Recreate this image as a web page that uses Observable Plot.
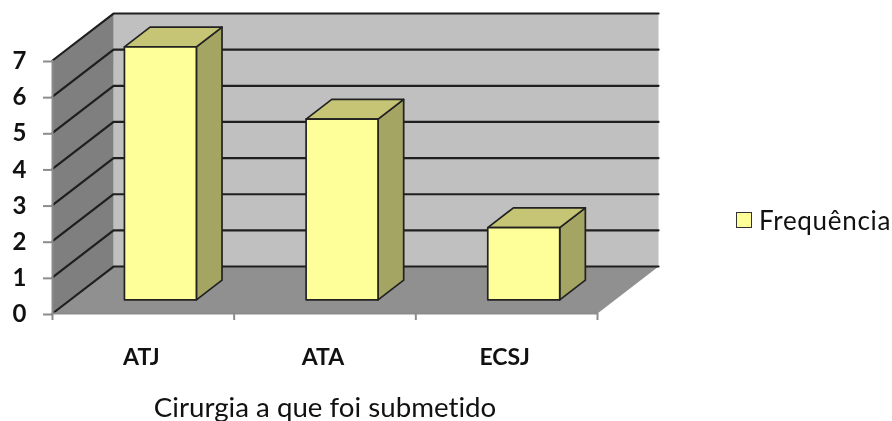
<!DOCTYPE html>
<html><head><meta charset="utf-8">
<script src="https://cdn.jsdelivr.net/npm/d3@7"></script>
<script src="https://cdn.jsdelivr.net/npm/@observablehq/plot@0.6"></script>
<style>
html,body{margin:0;padding:0;background:#fff;overflow:hidden}
#wrap{position:relative;width:892px;height:421px;font-family:Lato,"Open Sans",sans-serif;color:#111;filter:blur(.5px);font-variant-ligatures:none}
#wrap svg{font-variant-ligatures:none}
#legend{position:absolute;left:736px;top:203px;display:flex;align-items:center;font-size:26px;line-height:34px;letter-spacing:.7px}
#legend i{display:inline-block;box-sizing:border-box;width:16px;height:16px;background:#ffff99;border:1.5px solid #333;margin-right:7px}
</style></head><body>
<div id="wrap"><div id="legend"><i></i><span id="legendText"></span></div></div>
<script>
const categories = ["ATJ", "ATA", "ECSJ"];
const frequencies = [7, 5, 2];
const yTicks = [0, 1, 2, 3, 4, 5, 6, 7];
const xTitle = "Cirurgia a que foi submetido";
const seriesName = "Frequência";

// oblique projection, in data units of the two scales
const depthX = 0.336, depthY = 1.30;
const barFront = 0.29, barBack = 0.71, barInset = 0.396, barWidth = 0.396;
const P = (x, v, d) => ({x: x + d * depthX, y: v + d * depthY});
const face = (id, fill, pts) => pts.concat([pts[0]]).map(p => ({...p, id, fill}));

const maxV = d3.max(yTicks), nCat = categories.length;
const faces = [
  face("wall", "#c0c0c0", [P(0,0,1), P(nCat,0,1), P(nCat,maxV,1), P(0,maxV,1)]),
  face("side", "#7f7f7f", [P(0,0,0), P(0,0,1), P(0,maxV,1), P(0,maxV,0)]),
  face("floor", "#909090", [P(0,0,0), P(nCat,0,0), P(nCat,0,1), P(0,0,1)])
].flat();

const gridLines = yTicks.flatMap(v => [
  {...P(0,v,0), id:v}, {...P(0,v,1), id:v}, {...P(nCat,v,1), id:v}
]);

const barFaces = categories.flatMap((c, i) => {
  const v = frequencies[i], a = i + barInset - barFront * depthX, b = a + barWidth;
  return [
    face(c + "-side", "#a4a463", [P(b,0,barFront), P(b,0,barBack), P(b,v,barBack), P(b,v,barFront)]),
    face(c + "-top", "#c5c575", [P(a,v,barFront), P(b,v,barFront), P(b,v,barBack), P(a,v,barBack)]),
    face(c + "-front", "#ffff99", [P(a,0,barFront), P(b,0,barFront), P(b,v,barFront), P(a,v,barFront)])
  ];
}).flat();

document.getElementById("legendText").textContent = seriesName;

const chart = Plot.plot({
  width: 892, height: 421,
  marginLeft: 52, marginRight: 295, marginTop: 60, marginBottom: 108,
  x: {domain: [0, nCat]},
  y: {domain: [0, maxV]},
  style: {background: "transparent", overflow: "visible", fontFamily: "Lato, 'Open Sans', sans-serif"},
  marks: [
    Plot.line(faces, {x:"x", y:"y", z:"id", fill:"fill", stroke:"none", curve:"linear"}),
    Plot.line(gridLines, {x:"x", y:"y", z:"id", stroke:"#1f1f1f", strokeWidth:2.2, curve:"linear"}),
    Plot.ruleX([0], {y1:0, y2:maxV, stroke:"#8c8c8c", strokeWidth:2}),
    Plot.ruleY([0], {x1:0, x2:nCat, stroke:"#8c8c8c", strokeWidth:2}),
    Plot.axisY({ticks: yTicks, tickSize: 9, tickPadding: 17, fontSize: 24, fontWeight: 700, stroke:"#8c8c8c", strokeWidth:2, color:"#111", label:null, tickFormat:d=>d, dy:1}),
    Plot.axisX({ticks: d3.range(nCat + 1), tickSize: 7, stroke:"#8c8c8c", strokeWidth:2, tickFormat:()=>"", label:null}),
    Plot.axisX({ticks: categories.map((c,i)=>i+0.5), tickSize: 0, tickPadding: 35, fontSize: 23, fontWeight: 700, color:"#111", stroke:"none", tickFormat:d=>categories[d-0.5], label:null, dx:-2}),
    Plot.line(barFaces, {x:"x", y:"y", z:"id", fill:"fill", stroke:"#222", strokeWidth:1.7, strokeLinejoin:"round", curve:"linear"}),
    Plot.text([xTitle], {frameAnchor:"bottom", text:d=>d, dy:103, fontSize:27.7, fill:"#111"})
  ]
});
document.getElementById("wrap").prepend(chart);
</script>
</body></html>
